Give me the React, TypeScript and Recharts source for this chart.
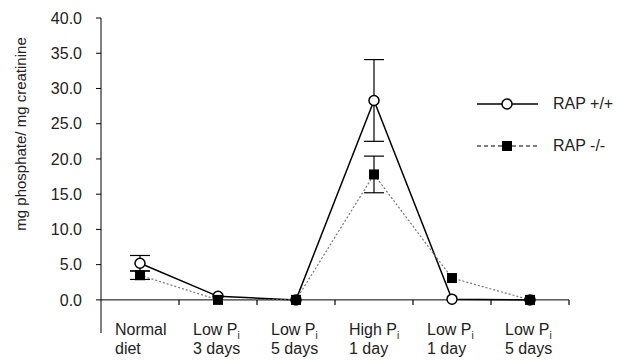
import React from "react";
import {
  ComposedChart,
  Line,
  XAxis,
  YAxis,
  ErrorBar,
  ReferenceLine,
} from "recharts";

const dietLines = [
  ["Normal", "diet"],
  ["Low P", "3 days"],
  ["Low P", "5 days"],
  ["High P", "1 day"],
  ["Low P", "1 day"],
  ["Low P", "5 days"],
];
const hasSubscript = [false, true, true, true, true, true];
const positions = [0.5, 1.5, 2.5, 3.5, 4.5, 5.5];

const wildType = [5.2, 0.5, 0.0, 28.3, 0.1, 0.0];
const wildTypeErr = [1.1, 0, 0, 5.8, 0, 0];
const knockout = [3.5, 0.0, 0.0, 17.8, 3.1, 0.0];
const knockoutErr = [0.6, 0, 0, 2.6, 0, 0];

const yTicks = [0, 5, 10, 15, 20, 25, 30, 35, 40];
const yDomain = [-4.7, 40];

const data = positions.map((x, i) => ({
  x,
  wt: wildType[i],
  wtErr: wildTypeErr[i],
  ko: knockout[i],
  koErr: knockoutErr[i],
}));

const FONT = "'Liberation Sans', Arial, sans-serif";
const W = 628;
const H = 361;
const margin = { top: 18, right: 59, bottom: 0, left: 0 };
const Y_AXIS_W = 101;
const X_AXIS_H = 28;
const plotW = W - margin.right - Y_AXIS_W;
const plotH = H - margin.top - X_AXIS_H;

const CircleDot = (props: any) => {
  const { cx, cy } = props;
  if (cx == null || cy == null) return null;
  return <circle cx={cx} cy={cy} r={5} fill="#fff" stroke="#000" strokeWidth={1.5} />;
};

const SquareDot = (props: any) => {
  const { cx, cy } = props;
  if (cx == null || cy == null) return null;
  return <rect x={cx - 5} y={cy - 5} width={10} height={10} fill="#000" />;
};

// category label + the tick mark on the zero line at the right edge of the category
const DietTick = (props: any) => {
  const { x, y, payload } = props;
  const idx = positions.indexOf(payload.value);
  if (idx < 0) return null;
  const [top, bottom] = dietLines[idx];
  const halfBand = plotW / positions.length / 2;
  const tx = Number(x) + halfBand;
  const y0 = Number(y) - (plotH * -yDomain[0]) / (yDomain[1] - yDomain[0]);
  return (
    <g>
      <path d={`M${tx},${y0}L${tx},${y0 + 5}`} stroke="#000" strokeWidth={1.2} fill="none" />
      <text x={x - 25} y={y + 2} fontSize={16} fontFamily={FONT} fill="#222">
        {top}
        {hasSubscript[idx] && (
          <tspan fontSize={10} dy={4}>
            i
          </tspan>
        )}
      </text>
      <text x={x - 25} y={y + 21} fontSize={16} fontFamily={FONT} fill="#222">
        {bottom}
      </text>
    </g>
  );
};

const YLabel = (props: any) => {
  const vb = props.viewBox || { x: 0, y: 18 };
  const cx = vb.x + 20;
  const cy = vb.y + 116;
  return (
    <text
      x={cx}
      y={cy}
      transform={`rotate(-90 ${cx} ${cy})`}
      textAnchor="middle"
      dominantBaseline="central"
      fontSize={15}
      fontFamily={FONT}
      fill="#222"
    >
      mg phosphate/ mg creatinine
    </text>
  );
};

const LegendBox = () => (
  <svg
    width={150}
    height={80}
    style={{ position: "absolute", left: 470, top: 85 }}
  >
    <line x1={7} y1={19} x2={68} y2={19} stroke="#000" strokeWidth={1.5} />
    <circle cx={37} cy={19} r={5} fill="#fff" stroke="#000" strokeWidth={1.5} />
    <text x={83} y={24} fontSize={16} fontFamily={FONT} fill="#222">
      RAP +/+
    </text>
    <line x1={7} y1={61} x2={68} y2={61} stroke="#000" strokeWidth={1.2} strokeDasharray="4 3" />
    <rect x={32} y={56} width={10} height={10} fill="#000" />
    <text x={83} y={66} fontSize={16} fontFamily={FONT} fill="#222">
      RAP -/-
    </text>
  </svg>
);

export default function App() {
  return (
    <div style={{ position: "absolute", left: 0, top: 0, width: W, height: H, background: "#fff" }}>
      <ComposedChart width={W} height={H} data={data} margin={margin}>
        <XAxis
          dataKey="x"
          type="number"
          domain={[0, 6]}
          ticks={positions}
          axisLine={false}
          tickLine={false}
          tickSize={0}
          tickMargin={0}
          height={X_AXIS_H}
          tick={<DietTick />}
          interval={0}
        />
        <YAxis
          type="number"
          domain={yDomain}
          ticks={yTicks}
          width={Y_AXIS_W}
          tickFormatter={(v: number) => v.toFixed(1)}
          tick={{ fontSize: 16, fontFamily: FONT, fill: "#222" }}
          tickSize={5}
          tickMargin={14}
          stroke="#000"
          allowDataOverflow
          label={<YLabel />}
        />
        <ReferenceLine y={0} stroke="#000" strokeWidth={1} />
        <Line
          dataKey="wt"
          stroke="#000"
          strokeWidth={1.5}
          dot={<CircleDot />}
          activeDot={false}
          isAnimationActive={false}
        >
          <ErrorBar dataKey="wtErr" width={10} stroke="#000" strokeWidth={1.2} direction="y" />
        </Line>
        <Line
          dataKey="ko"
          stroke="#777"
          strokeWidth={1.2}
          strokeDasharray="2 2"
          dot={<SquareDot />}
          activeDot={false}
          isAnimationActive={false}
        >
          <ErrorBar dataKey="koErr" width={10} stroke="#000" strokeWidth={1.2} direction="y" />
        </Line>
      </ComposedChart>
      <LegendBox />
    </div>
  );
}
